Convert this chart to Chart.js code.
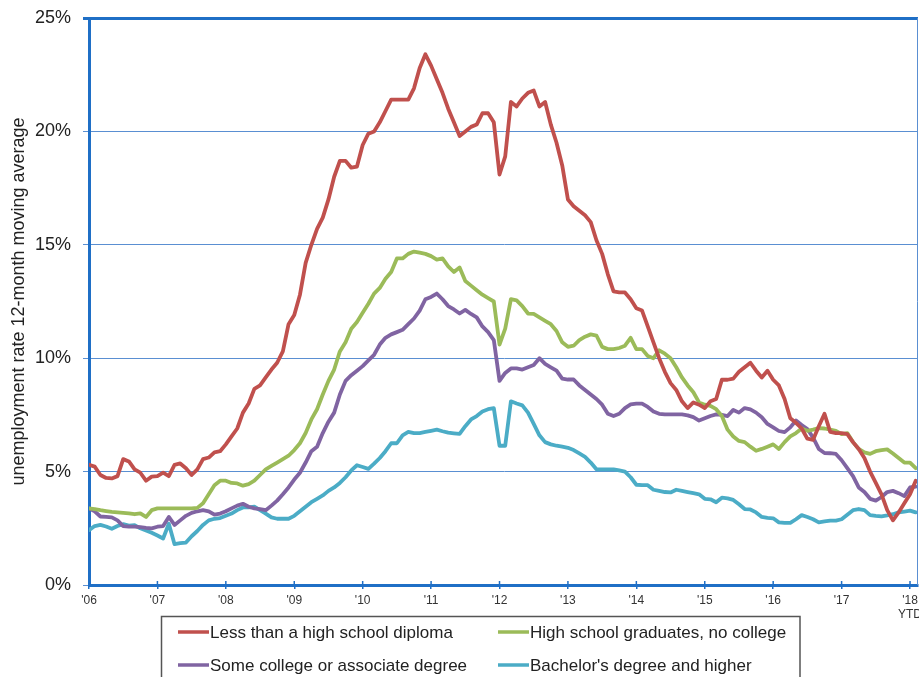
<!DOCTYPE html>
<html><head><meta charset="utf-8">
<script src="https://cdn.jsdelivr.net/npm/chart.js@4.4.1/dist/chart.umd.min.js"></script>
<style>html,body{margin:0;padding:0;background:#fff;overflow:hidden}canvas{display:block}</style>
</head><body>
<canvas id="c" width="919" height="677"></canvas>
<script>
// ---- data (monthly 12-month moving averages, Jan 2006 .. Feb 2018) ----
const xTickLabels = [["'06"],["'07"],["'08"],["'09"],["'10"],["'11"],["'12"],["'13"],["'14"],["'15"],["'16"],["'17"],["'18","YTD"]];
const yTickSuffix = '%';
const seriesNames = [
  'Less than a high school diploma',
  'High school graduates, no college',
  'Some college or associate degree',
  "Bachelor's degree and higher"
];
const lessThanHS = [
  5.3, 5.22, 4.85, 4.72, 4.7, 4.8, 5.55, 5.45, 5.1, 4.95, 4.6, 4.78,
  4.8, 4.95, 4.8, 5.3, 5.36, 5.15, 4.85, 5.1, 5.55, 5.62, 5.85, 5.9,
  6.2, 6.55, 6.9, 7.6, 8.0, 8.65, 8.8, 9.15, 9.5, 9.8, 10.3, 11.5,
  11.9, 12.8, 14.2, 15.0, 15.7, 16.2, 17.0, 18.0, 18.7, 18.7, 18.4, 18.45,
  19.4, 19.9, 20.0, 20.4, 20.9, 21.4, 21.4, 21.4, 21.4, 21.9, 22.8, 23.4,
  22.9, 22.3, 21.7, 21.0, 20.4, 19.8, 20.0, 20.2, 20.3, 20.8, 20.8, 20.4,
  18.1, 18.9, 21.3, 21.1, 21.45, 21.7, 21.8, 21.1, 21.3, 20.3, 19.5, 18.5,
  17.0, 16.7, 16.5, 16.3, 16.0, 15.2, 14.6, 13.7, 12.95, 12.9, 12.9, 12.6,
  12.2, 12.1, 11.4, 10.7, 10.0, 9.4, 8.9, 8.6, 8.1, 7.8, 8.05, 7.95,
  7.8, 8.1, 8.2, 9.05, 9.05, 9.1, 9.4, 9.6, 9.8, 9.45, 9.15, 9.45,
  9.05, 8.8, 8.2, 7.35, 7.15, 6.9, 6.45, 6.4, 7.0, 7.55, 6.75, 6.7,
  6.7, 6.65, 6.3, 6.0, 5.6, 5.0, 4.5, 4.0, 3.3, 2.85, 3.2, 3.6,
  4.0, 4.6
];
const hsGraduates = [
  3.38, 3.35, 3.3, 3.26, 3.22, 3.2, 3.18, 3.16, 3.12, 3.16, 3.0, 3.3,
  3.38, 3.38, 3.38, 3.38, 3.38, 3.38, 3.38, 3.4, 3.6, 4.0, 4.4, 4.6,
  4.6, 4.5, 4.48, 4.38, 4.45, 4.6, 4.85, 5.1, 5.25, 5.4, 5.55, 5.7,
  5.95, 6.25, 6.7, 7.3, 7.75, 8.4, 9.0, 9.5, 10.3, 10.7, 11.3, 11.6,
  12.0, 12.4, 12.85, 13.1, 13.5, 13.8, 14.4, 14.4, 14.6, 14.7, 14.65, 14.6,
  14.5, 14.35, 14.4, 14.05, 13.8, 14.0, 13.4, 13.2, 13.0, 12.8, 12.65, 12.5,
  10.6, 11.3, 12.6, 12.55, 12.3, 11.97, 11.95, 11.8, 11.65, 11.5, 11.2, 10.7,
  10.5, 10.55, 10.8, 10.95, 11.05, 11.0, 10.5, 10.4, 10.4, 10.45, 10.55, 10.9,
  10.4, 10.4, 10.1, 10.0, 10.35, 10.2, 10.0, 9.6, 9.15, 8.8, 8.5, 8.05,
  7.95, 7.9, 7.75, 7.45, 6.85, 6.55, 6.35, 6.3, 6.1, 5.92, 6.0, 6.1,
  6.2, 6.0, 6.3, 6.55, 6.7, 6.9, 6.8, 6.85, 6.92, 6.9, 6.85, 6.8,
  6.65, 6.7, 6.3, 6.0, 5.85, 5.78, 5.9, 5.95, 5.98, 5.8, 5.6, 5.4,
  5.4, 5.15
];
const someCollege = [
  3.38, 3.25, 3.02, 3.0, 2.98, 2.85, 2.6, 2.57, 2.57, 2.55, 2.52, 2.5,
  2.57, 2.6, 3.0, 2.65, 2.85, 3.05, 3.18, 3.25, 3.3, 3.25, 3.1, 3.15,
  3.25, 3.38, 3.5, 3.58, 3.45, 3.38, 3.35, 3.3, 3.5, 3.72, 4.0, 4.3,
  4.65, 4.95, 5.4, 5.9, 6.1, 6.7, 7.2, 7.6, 8.4, 9.0, 9.25, 9.45,
  9.65, 9.9, 10.15, 10.6, 10.9, 11.05, 11.15, 11.25, 11.5, 11.75, 12.1, 12.6,
  12.7, 12.85, 12.6, 12.3, 12.15, 11.97, 12.13, 11.95, 11.8, 11.4, 11.15, 10.8,
  9.0, 9.35, 9.55, 9.55, 9.5, 9.6, 9.7, 10.0, 9.75, 9.6, 9.45, 9.1,
  9.06, 9.06, 8.8, 8.6, 8.4, 8.2, 7.95, 7.55, 7.45, 7.55, 7.8, 7.96,
  8.0, 8.0, 7.85, 7.65, 7.55, 7.52, 7.52, 7.52, 7.52, 7.48, 7.4, 7.25,
  7.35, 7.45, 7.52, 7.5, 7.45, 7.72, 7.6, 7.8, 7.74, 7.6, 7.4, 7.1,
  6.95, 6.79, 6.74, 6.95, 7.25, 7.05, 6.88, 6.5, 6.0, 5.82, 5.81, 5.78,
  5.5, 5.15, 4.8, 4.3, 4.1, 3.8, 3.72, 3.88, 4.1, 4.15, 4.05, 3.92,
  4.3, 4.34
];
const bachelors = [
  2.42, 2.6, 2.65, 2.58, 2.48, 2.6, 2.68, 2.62, 2.64, 2.5, 2.4, 2.3,
  2.18, 2.05, 2.7, 1.8, 1.85, 1.87, 2.15, 2.38, 2.65, 2.85, 2.92, 2.95,
  3.05, 3.15, 3.3, 3.42, 3.42, 3.45, 3.3, 3.15, 2.98, 2.92, 2.92, 2.92,
  3.05, 3.25, 3.45, 3.65, 3.8, 3.95, 4.15, 4.3, 4.5, 4.75, 5.05, 5.28,
  5.2, 5.12, 5.35, 5.6, 5.9, 6.25, 6.25, 6.6, 6.75, 6.7, 6.7, 6.75,
  6.8, 6.85, 6.78, 6.72, 6.69, 6.66, 7.0, 7.3, 7.45, 7.65, 7.75, 7.8,
  6.14, 6.14, 8.1, 8.0, 7.92, 7.6, 7.1, 6.6, 6.3, 6.2, 6.14, 6.1,
  6.05, 5.95, 5.8, 5.65, 5.4, 5.1, 5.1, 5.1, 5.1, 5.05, 5.0, 4.75,
  4.42, 4.4, 4.4, 4.2, 4.15, 4.1, 4.08, 4.2, 4.15, 4.1, 4.05, 4.0,
  3.8, 3.78, 3.65, 3.85, 3.82, 3.75, 3.56, 3.35, 3.33, 3.2, 3.0, 2.96,
  2.94, 2.76, 2.74, 2.74, 2.9, 3.08, 3.0, 2.9, 2.76, 2.8, 2.84, 2.84,
  2.9, 3.1, 3.3, 3.35, 3.3, 3.08, 3.05, 3.03, 3.07, 3.12, 3.2, 3.24,
  3.28, 3.2
];

// ---- styling ----
const FONT = "'Liberation Sans', Arial, sans-serif";
const AXIS = '#1f6fc6';
const GRID = '#5a8fd2';
const COLORS = ['#c0504d', '#9bbb59', '#8064a2', '#4bacc6'];
const allSeries = [lessThanHS, hsGraduates, someCollege, bachelors];

const toPoints = arr => arr.map((v, i) => ({x: i, y: v}));

const framePlugin = {
  id: 'frame',
  afterDraw(chart) {
    const {ctx, chartArea: a, scales} = chart;
    ctx.save();
    ctx.strokeStyle = GRID; ctx.lineWidth = 1;
    ctx.beginPath(); ctx.moveTo(a.right - 0.5, a.top); ctx.lineTo(a.right - 0.5, a.bottom); ctx.stroke();
    ctx.strokeStyle = AXIS; ctx.lineWidth = 1.5;
    scales.x.ticks.forEach(t => {
      const px = scales.x.getPixelForValue(t.value);
      ctx.beginPath(); ctx.moveTo(px, a.bottom - 4); ctx.lineTo(px, a.bottom); ctx.stroke();
    });
    ctx.restore();
  }
};

const legendPlugin = {
  id: 'boxLegend',
  afterDraw(chart) {
    const ctx = chart.ctx;
    ctx.save();
    ctx.strokeStyle = '#555'; ctx.lineWidth = 1.5;
    ctx.strokeRect(161.5, 616.5, 638.5, 80);
    const cols = [178, 498], rows = [632, 665];
    chart.data.datasets.forEach((d, i) => {
      const x = cols[i % 2], y = rows[Math.floor(i / 2)];
      ctx.strokeStyle = d.borderColor; ctx.lineWidth = 3.5;
      ctx.beginPath(); ctx.moveTo(x, y); ctx.lineTo(x + 31, y); ctx.stroke();
      ctx.fillStyle = '#222'; ctx.font = '17px ' + FONT; ctx.textBaseline = 'middle'; ctx.textAlign = 'left';
      ctx.fillText(d.label, x + 32, y + 1);
    });
    ctx.restore();
  }
};

new Chart(document.getElementById('c'), {
  type: 'line',
  data: {
    datasets: allSeries.map((s, i) => ({
      label: seriesNames[i],
      data: toPoints(s),
      borderColor: COLORS[i],
      backgroundColor: COLORS[i],
      borderWidth: 3.8,
      pointRadius: 0,
      tension: 0,
      borderJoinStyle: 'round',
      borderCapStyle: 'round'
    }))
  },
  options: {
    responsive: false,
    animation: false,
    devicePixelRatio: 1,
    layout: {padding: {top: 18, right: 1, left: 0, bottom: 0}},
    plugins: {legend: {display: false}, tooltip: {enabled: false}},
    scales: {
      x: {
        type: 'linear', min: 0, max: 145.4,
        afterFit(s) { s.height = 92; s.paddingLeft = 0; s.paddingRight = 0; s.paddingTop = 0; s.paddingBottom = 0; },
        border: {display: true, color: AXIS, width: 3},
        grid: {drawOnChartArea: false, drawTicks: true, tickLength: 4, color: AXIS, lineWidth: 1.5},
        ticks: {
          stepSize: 12, includeBounds: false, autoSkip: false, maxRotation: 0, padding: 4,
          color: '#333', font: {family: FONT, size: 12},
          callback: (v) => xTickLabels[Math.round(v / 12)]
        }
      },
      y: {
        min: 0, max: 25,
        afterFit(s) { s.width = 89; s.paddingTop = 0; s.paddingBottom = 0; s.paddingLeft = 0; s.paddingRight = 0; },
        border: {display: true, color: AXIS, width: 3},
        grid: {
          color: ctx => (ctx.tick && ctx.tick.value === 25) ? AXIS : GRID,
          lineWidth: ctx => (ctx.tick && ctx.tick.value === 25) ? 3 : 1,
          tickLength: 6, drawTicks: true
        },
        ticks: {
          stepSize: 5, padding: 12, color: '#222', font: {family: FONT, size: 18},
          callback: v => v + yTickSuffix
        },
        title: {
          display: true, text: 'unemployment rate 12-month moving average',
          color: '#222', font: {family: FONT, size: 18}, padding: {top: 8, bottom: 0}
        }
      }
    }
  },
  plugins: [framePlugin, legendPlugin]
});
</script>
</body></html>
